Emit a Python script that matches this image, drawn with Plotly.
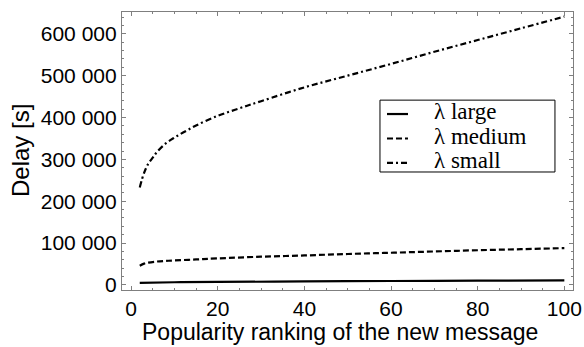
import plotly.graph_objects as go

# Popularity ranking of the new message
rank_small = [2, 3, 4, 5, 6, 8, 10, 12, 15, 20, 25, 30, 40, 50, 60, 70, 80, 90, 100]
delay_small = [233000, 268000, 290000, 304000, 318000, 338000, 352000, 364000, 381000,
               404000, 422000, 439000, 472000, 500000, 528000, 557000, 585000, 613000, 641000]

rank_medium = [2, 3, 4, 6, 8, 10, 15, 20, 30, 40, 50, 60, 70, 80, 90, 100]
delay_medium = [46000, 51000, 53500, 56000, 57500, 58500, 61000, 63500, 67500, 70500,
                74000, 77000, 80000, 83000, 85500, 88000]

rank_large = [2, 10, 20, 40, 60, 80, 100]
delay_large = [5000, 6500, 7200, 8500, 9500, 10300, 11000]

series_names = ["\u03bb large", "\u03bb medium", "\u03bb small"]
series_dash = ["solid", "6px,3px", "6px,3px,2px,3px"]

x_ticks = [0, 20, 40, 60, 80, 100]
y_ticks = [0, 100000, 200000, 300000, 400000, 500000, 600000]
y_tick_text = ["0", "100 000", "200 000", "300 000", "400 000", "500 000", "600 000"]

SANS = "Liberation Sans, Arial, sans-serif"
SERIF = "Liberation Serif, Times New Roman, serif"
LW = 2.2

fig = go.Figure()
for xs, ys, name, dash in zip([rank_large, rank_medium, rank_small],
                              [delay_large, delay_medium, delay_small],
                              series_names, series_dash):
    fig.add_trace(go.Scatter(x=xs, y=ys, mode="lines", name=name, showlegend=False,
                             line=dict(color="black", width=LW, dash=dash, shape="spline")))

frame = "#7f7f7f"
axis_common = dict(
    showline=True, linecolor=frame, linewidth=1.2, mirror="allticks",
    ticks="inside", ticklen=4, tickwidth=1, tickcolor=frame,
    showgrid=False, zeroline=False, automargin=False,
    tickfont=dict(family=SANS, size=21, color="black"),
)

fig.update_xaxes(
    range=[-2.1, 102.0], tickvals=x_ticks,
    minor=dict(dtick=5, ticklen=2, tickwidth=1, tickcolor=frame, ticks="inside"),
    **axis_common,
)
fig.update_yaxes(
    range=[-12000, 652000], tickvals=y_ticks, ticktext=y_tick_text,
    minor=dict(dtick=20000, ticklen=2, tickwidth=1, tickcolor=frame, ticks="inside"),
    **axis_common,
)

# Axis titles
annotations = [
    dict(xref="paper", yref="paper", x=0.4834, y=0, yshift=-42,
         xanchor="center", yanchor="middle", showarrow=False, borderpad=0,
         text="Popularity ranking of the new message",
         font=dict(family=SANS, size=23, color="black")),
    dict(xref="paper", yref="paper", x=0, y=0.5, xshift=-102,
         xanchor="center", yanchor="middle", showarrow=False, textangle=-90,
         text="Delay [s]", font=dict(family=SANS, size=24, color="black")),
]

# Framed legend in the upper right of the plot area (paper coordinates)
box_x0, box_x1, box_y0, box_y1 = 0.572, 0.960, 0.4245, 0.683
row_y = [0.641, 0.553, 0.465]
sample_x0, sample_x1, text_x = 0.5876, 0.6341, 0.6896

shapes = [dict(type="rect", xref="paper", yref="paper",
               x0=box_x0, x1=box_x1, y0=box_y0, y1=box_y1,
               line=dict(color="black", width=1), fillcolor="white", layer="above")]
for ry, name, dash in zip(row_y, series_names, series_dash):
    shapes.append(dict(type="line", xref="paper", yref="paper",
                       x0=sample_x0, x1=sample_x1, y0=ry - 0.008, y1=ry - 0.008,
                       line=dict(color="black", width=LW, dash=dash), layer="above"))
    annotations.append(dict(xref="paper", yref="paper", x=text_x, y=ry,
                            xanchor="left", yanchor="middle", showarrow=False, borderpad=0,
                            text=name, font=dict(family=SERIF, size=23, color="black")))

fig.update_layout(
    width=584, height=347,
    margin=dict(l=122, r=11, t=12, b=57),
    plot_bgcolor="white", paper_bgcolor="white",
    showlegend=False,
    shapes=shapes, annotations=annotations,
)

fig.write_html("out.html")
